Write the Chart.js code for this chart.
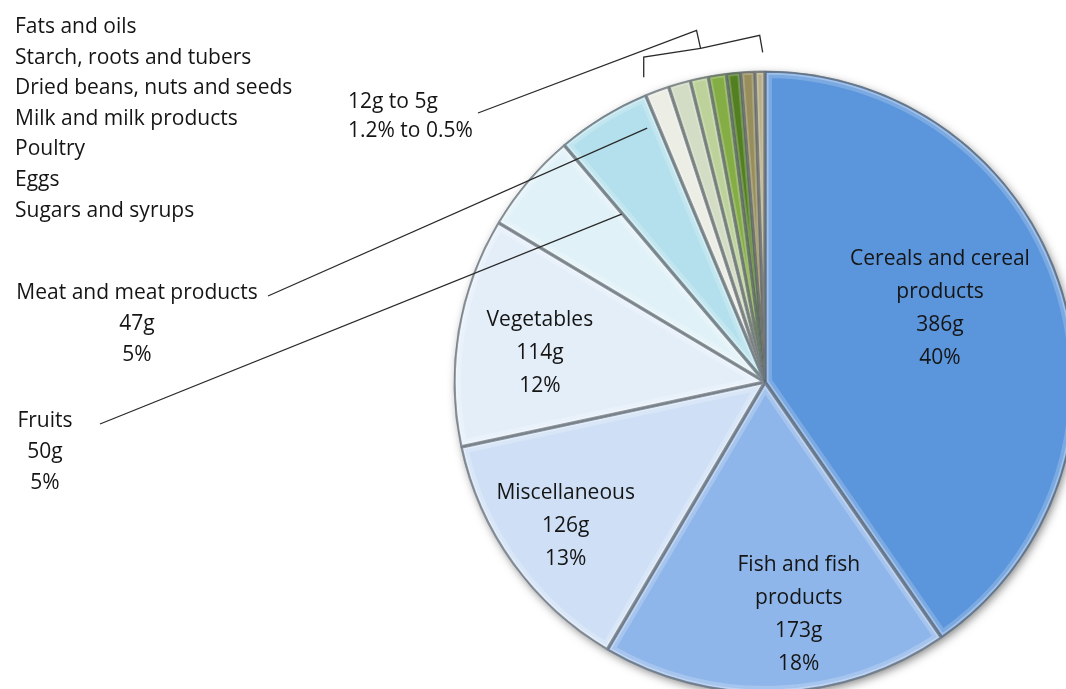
<!DOCTYPE html>
<html>
<head>
<meta charset="utf-8">
<script src="https://cdn.jsdelivr.net/npm/chart.js@4.4.1/dist/chart.umd.min.js"></script>
<style>
  html, body { margin: 0; padding: 0; background: #fff; overflow: hidden; }
  #wrap { position: absolute; left: 0; top: 0; }
</style>
</head>
<body>
<div id="wrap"><canvas id="foodChart" width="1100" height="710"></canvas></div>
<script>
// Daily food intake by group (grams), clockwise from 12 o'clock
const categories = [
    'Cereals and cereal products', 'Fish and fish products', 'Miscellaneous', 'Vegetables',
    'Fruits', 'Meat and meat products', 'Sugars and syrups', 'Eggs', 'Poultry',
    'Milk and milk products', 'Dried beans, nuts and seeds', 'Starch, roots and tubers', 'Fats and oils'
];
const grams = [386, 173, 126, 114, 50, 47, 12, 11, 9, 9, 7, 7, 5];
const sliceColors = [
    '#5b95dc', '#8fb6ea', '#cfe0f6', '#e4eef9', '#e0f2f8', '#b3e0ec',
    '#eceee6', '#d3dcc4', '#bcd29a', '#84ad45', '#527f20', '#978e5c', '#b8ae88'
];

// label text split for the slices that carry their label inside
const insideNames = [['Cereals and cereal', 'products'], ['Fish and fish', 'products'], ['Miscellaneous'], ['Vegetables']];
// [radius fraction, angle offset in degrees from slice middle]
const insidePlacement = [[0.61, -5.4], [0.755, -6.2], [0.79, 0], [0.73, -2]];
const SMALL_FROM = 6; // first of the tiny slices grouped under one label

const FONT = '21px "Open Sans", "Liberation Sans", sans-serif';
const TEXT = '#151515';

const total = grams.reduce((a, b) => a + b, 0);
const pct = v => Math.round(v / total * 100) + '%';
const pctTenth = v => (Math.floor(v / total * 1000) / 10) + '%';

function arcDeg(rad) { return rad * 180 / Math.PI + 90; }

// point on the pie, angle in degrees clockwise from top, radius as a fraction
function polar(arc, deg, frac) {
    const a = (deg - 90) * Math.PI / 180;
    return { x: arc.x + Math.cos(a) * arc.outerRadius * frac, y: arc.y + Math.sin(a) * arc.outerRadius * frac };
}

function arcPath(ctx, el) {
    ctx.beginPath();
    ctx.moveTo(el.x, el.y);
    ctx.arc(el.x, el.y, el.outerRadius, el.startAngle, el.endAngle);
    ctx.closePath();
}

const shadowPlugin = {
    id: 'pieShadow',
    beforeDatasetsDraw(chart) {
        const el = chart.getDatasetMeta(0).data[0];
        if (!el) return;
        const ctx = chart.ctx;
        ctx.save();
        ctx.shadowColor = 'rgba(0,0,0,0.5)';
        ctx.shadowBlur = 10;
        ctx.shadowOffsetX = 2;
        ctx.shadowOffsetY = 3;
        ctx.beginPath();
        ctx.arc(el.x, el.y, el.outerRadius - 1, 0, Math.PI * 2);
        ctx.fillStyle = '#777';
        ctx.fill();
        ctx.restore();
    }
};

// soft ridge along every slice edge
const bevelPlugin = {
    id: 'bevel',
    afterDatasetsDraw(chart) {
        const ctx = chart.ctx;
        chart.getDatasetMeta(0).data.forEach(el => {
            const narrow = (el.endAngle - el.startAngle) < 0.1;
            ctx.save();
            arcPath(ctx, el);
            ctx.clip();
            ctx.lineJoin = 'miter';
            arcPath(ctx, el);
            ctx.lineWidth = narrow ? 7 : 14;
            ctx.strokeStyle = 'rgba(255,255,255,0.2)';
            ctx.stroke();
            arcPath(ctx, el);
            ctx.lineWidth = narrow ? 4 : 7;
            ctx.strokeStyle = 'rgba(255,255,255,0.28)';
            ctx.stroke();
            arcPath(ctx, el);
            ctx.lineWidth = 3.5;
            ctx.strokeStyle = 'rgba(40,50,60,0.5)';
            ctx.stroke();
            ctx.restore();
        });
    }
};

function drawLines(ctx, lines, x, y, lh) {
    const top = y - (lines.length - 1) * lh / 2;
    lines.forEach((t, i) => ctx.fillText(t, x, top + i * lh));
}

const labelPlugin = {
    id: 'foodLabels',
    afterDraw(chart) {
        const ctx = chart.ctx;
        const arcs = chart.getDatasetMeta(0).data;
        ctx.save();
        ctx.font = FONT;
        ctx.fillStyle = TEXT;
        ctx.textBaseline = 'middle';
        ctx.textAlign = 'center';

        // labels inside the big slices
        insideNames.forEach((name, i) => {
            const el = arcs[i];
            const mid = (arcDeg(el.startAngle) + arcDeg(el.endAngle)) / 2;
            const [frac, off] = insidePlacement[i];
            const p = polar(el, mid + off, frac);
            drawLines(ctx, [...name, grams[i] + 'g', pct(grams[i])], p.x, p.y, 33);
        });

        // meat and fruits, outside with leader lines
        drawLines(ctx, [categories[5], grams[5] + 'g', pct(grams[5])], 137, 324, 31);
        drawLines(ctx, [categories[4], grams[4] + 'g', pct(grams[4])], 45, 452, 31);

        // list of the tiny groups
        ctx.textAlign = 'left';
        const small = categories.slice(SMALL_FROM).reverse();
        small.forEach((t, i) => ctx.fillText(t, 15, 27 + i * 30.6));
        const smallVals = grams.slice(SMALL_FROM);
        const hi = Math.max(...smallVals), lo = Math.min(...smallVals);
        ctx.fillText(hi + 'g to ' + lo + 'g', 348, 102);
        ctx.fillText(pctTenth(hi) + ' to ' + pctTenth(lo), 348, 131);

        // leader lines
        ctx.strokeStyle = '#2a2a2a';
        ctx.lineWidth = 1.3;
        const along = (el, t, frac) => polar(el, arcDeg(el.startAngle) + t * (arcDeg(el.endAngle) - arcDeg(el.startAngle)), frac);

        const meatEnd = along(arcs[5], 0.87, 0.9);
        ctx.beginPath(); ctx.moveTo(268, 296); ctx.lineTo(meatEnd.x, meatEnd.y); ctx.stroke();

        const fruitEnd = along(arcs[4], 0.99, 0.71);
        ctx.beginPath(); ctx.moveTo(100, 424); ctx.lineTo(fruitEnd.x, fruitEnd.y); ctx.stroke();

        // bracket over the tiny slices
        const first = arcs[SMALL_FROM], last = arcs[arcs.length - 1];
        const lb = polar(first, arcDeg(first.startAngle) + 0.9, 1.055);
        const rb = polar(last, arcDeg(last.endAngle) - 0.4, 1.06);
        const lt = { x: lb.x, y: lb.y - 20 };
        const rt = { x: rb.x - 3, y: rb.y - 17 };
        const notch = { x: lt.x + (rt.x - lt.x) * 0.49, y: lt.y + (rt.y - lt.y) * 0.49 + 2 };
        const peak = { x: notch.x - 4, y: notch.y - 18 };
        ctx.beginPath();
        ctx.moveTo(lb.x, lb.y); ctx.lineTo(lt.x, lt.y); ctx.lineTo(notch.x, notch.y);
        ctx.lineTo(rt.x, rt.y); ctx.lineTo(rb.x, rb.y);
        ctx.moveTo(notch.x, notch.y); ctx.lineTo(peak.x, peak.y);
        ctx.lineTo(478, 113);
        ctx.stroke();

        ctx.restore();
    }
};

new Chart(document.getElementById('foodChart'), {
    type: 'pie',
    data: {
        labels: categories,
        datasets: [{
            data: grams,
            backgroundColor: sliceColors,
            borderColor: 'rgba(70,80,90,0.55)',
            borderWidth: 1
        }]
    },
    options: {
        responsive: false,
        animation: false,
        devicePixelRatio: 1,
        radius: 311,
        layout: { padding: { left: 454, right: 24, top: 71, bottom: 17 } },
        plugins: { legend: { display: false }, tooltip: { enabled: false } }
    },
    plugins: [shadowPlugin, bevelPlugin, labelPlugin]
});
</script>
</body>
</html>
